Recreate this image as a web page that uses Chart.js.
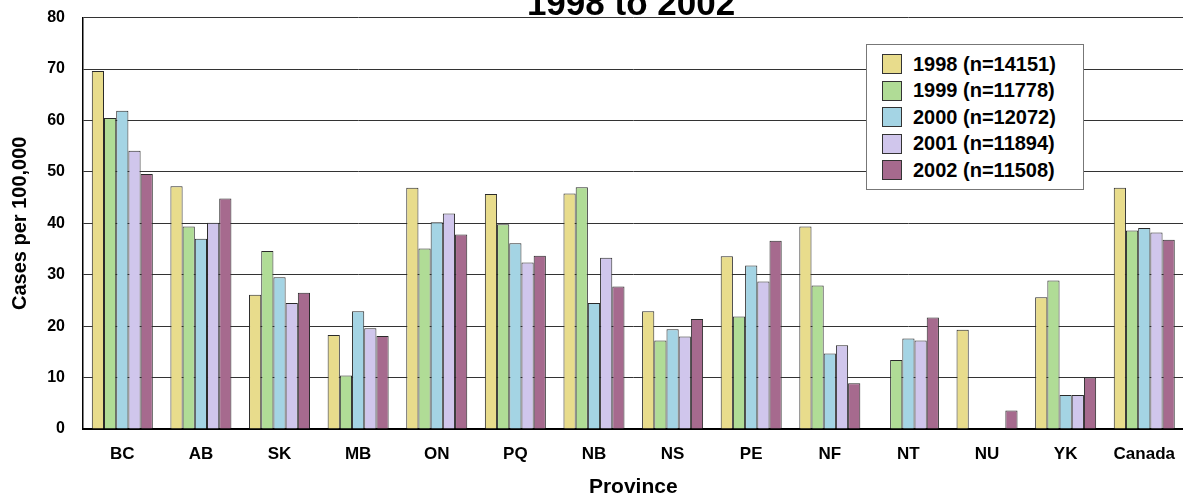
<!DOCTYPE html>
<html>
<head>
<meta charset="utf-8">
<script src="https://cdn.jsdelivr.net/npm/chart.js@4"></script>
<style>
  html, body { margin: 0; padding: 0; background: #fff; }
  #wrap { position: relative; width: 1183px; height: 497px; overflow: hidden; }
  #chart { position: absolute; left: 0; top: -10px; }
  #legend {
    position: absolute; left: 866px; top: 44px; width: 216px; height: 144px;
    border: 1.5px solid #777; background: #fff;
    font-family: "Liberation Sans", Arial, sans-serif; font-weight: bold; font-size: 20px; color: #000;
  }
  #legend .item { position: absolute; left: 15px; height: 22px; display: flex; align-items: center; }
  #legend .sw { width: 20px; height: 20px; border: 1px solid #333; box-sizing: border-box; margin-right: 11px; }
</style>
</head>
<body>
<div id="wrap">
  <canvas id="chart" width="1190" height="507"></canvas>
  <div id="legend"></div>
</div>
<script>
// data
const provinces = ['BC', 'AB', 'SK', 'MB', 'ON', 'PQ', 'NB', 'NS', 'PE', 'NF', 'NT', 'NU', 'YK', 'Canada'];
const years = ['1998 (n=14151)', '1999 (n=11778)', '2000 (n=12072)', '2001 (n=11894)', '2002 (n=11508)'];
const rate1998 = [69.6, 47.2, 26.1, 18.3, 46.9, 45.7, 45.8, 22.9, 33.6, 39.4, 0, 19.3, 25.6, 46.9];
const rate1999 = [60.5, 39.4, 34.6, 10.4, 35.1, 39.8, 47.0, 17.2, 21.9, 27.9, 13.4, 0, 28.9, 38.6];
const rate2000 = [61.9, 37.0, 29.5, 22.9, 40.2, 36.1, 24.5, 19.4, 31.8, 14.7, 17.6, 0, 6.6, 39.1];
const rate2001 = [54.1, 40.1, 24.5, 19.6, 41.9, 32.4, 33.3, 18.0, 28.7, 16.3, 17.2, 0, 6.6, 38.2];
const rate2002 = [49.6, 44.8, 26.5, 18.1, 37.8, 33.7, 27.7, 21.4, 36.6, 8.9, 21.7, 3.6, 10.0, 36.8];
const yTicks = [0, 10, 20, 30, 40, 50, 60, 70, 80];
const colors = ['#E8DC8C', '#B0DC96', '#A4D4E4', '#D0C6EC', '#A66A8E'];

const allRates = [rate1998, rate1999, rate2000, rate2001, rate2002];
const font = '"Liberation Sans", Arial, sans-serif';

// titel atas (terpotong di tepi gambar)
const topTitle = {
    id: 'topTitle',
    afterDraw(chart) {
        const ctx = chart.ctx;
        ctx.save();
        ctx.font = 'bold 35px ' + font;
        ctx.fillStyle = '#000';
        ctx.textAlign = 'center';
        ctx.textBaseline = 'alphabetic';
        ctx.fillText('1998 to 2002', 631, 25);
        ctx.restore();
    }
};

new Chart(document.getElementById('chart'), {
    type: 'bar',
    data: {
        labels: provinces,
        datasets: years.map((y, i) => ({
            label: y,
            data: allRates[i],
            backgroundColor: colors[i],
            borderColor: '#2a2a2a',
            borderWidth: 1,
            barPercentage: 1,
            categoryPercentage: 0.776
        }))
    },
    options: {
        responsive: false,
        animation: false,
        layout: { padding: { top: 7, right: 1, left: 0, bottom: 0 } },
        plugins: {
            legend: { display: false },
            tooltip: { enabled: false }
        },
        scales: {
            x: {
                grid: { display: false, drawTicks: false },
                border: { display: true, color: '#000', width: 2 },
                ticks: { color: '#000', font: { family: font, size: 17, weight: 'bold' }, padding: 15, maxRotation: 0 },
                title: { display: true, text: 'Province', color: '#000', font: { family: font, size: 21, weight: 'bold' }, padding: { top: 0, bottom: -3 } },
                afterFit(s) { s.height = 68; }
            },
            y: {
                min: 0,
                max: 80,
                afterBuildTicks(s) { s.ticks = yTicks.map(v => ({ value: v })); },
                grid: { color: '#333', lineWidth: 1, drawTicks: false },
                border: { display: true, color: '#000', width: 1.5 },
                ticks: { color: '#000', font: { family: font, size: 16, weight: 'bold' }, padding: 18 },
                title: { display: true, text: 'Cases per 100,000', color: '#000', font: { family: font, size: 20, weight: 'bold' }, padding: { top: 8, bottom: 0 } },
                afterFit(s) { s.width = 83; }
            }
        }
    },
    plugins: [topTitle]
});

// legenda dengan kotak
const legend = document.getElementById('legend');
years.forEach((y, i) => {
    const item = document.createElement('div');
    item.className = 'item';
    item.style.top = (8 + i * 26.6) + 'px';
    item.innerHTML = '<span class="sw" style="background:' + colors[i] + '"></span><span>' + y + '</span>';
    legend.appendChild(item);
});
</script>
</body>
</html>
